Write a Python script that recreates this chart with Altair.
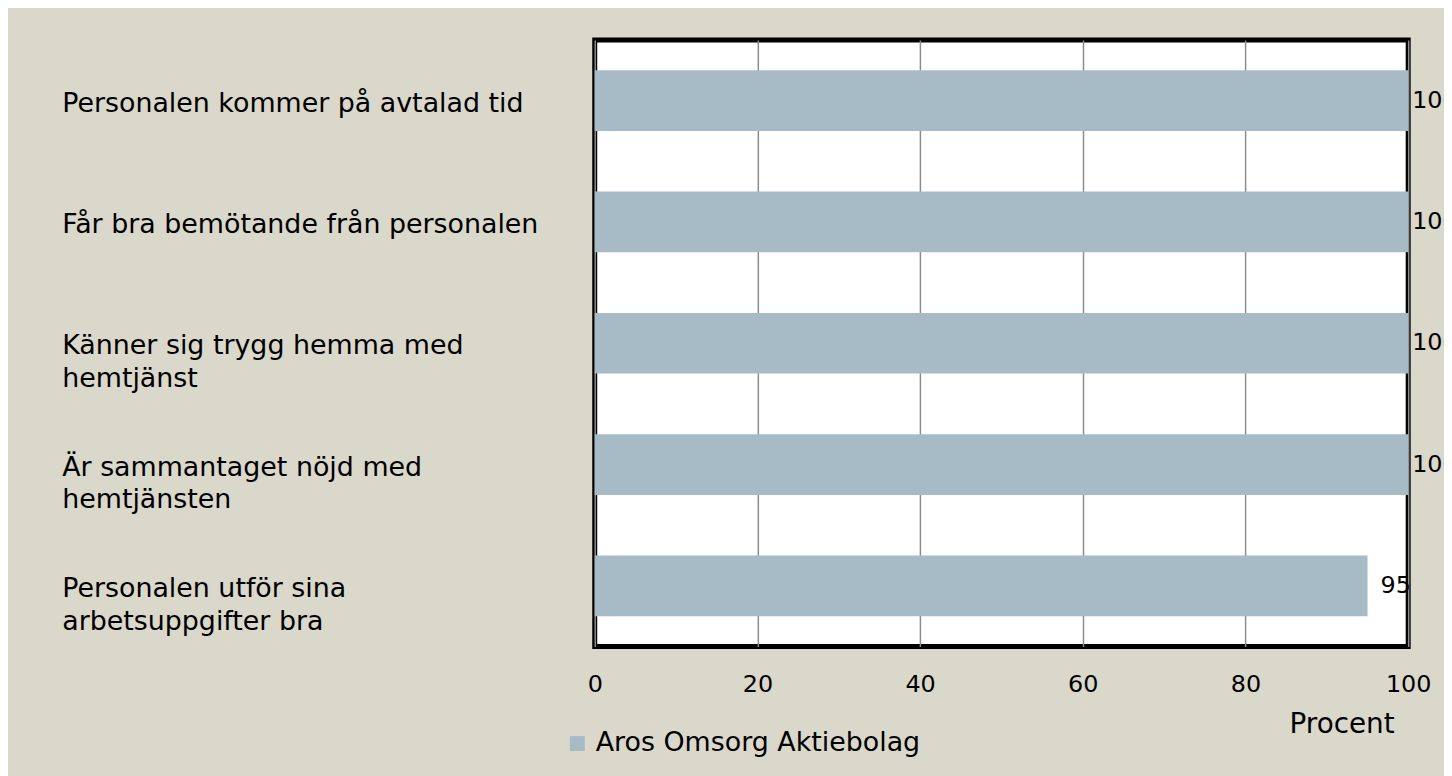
import altair as alt
import pandas as pd

categories = [
    "Personalen kommer på avtalad tid",
    "Får bra bemötande från personalen",
    "Känner sig trygg hemma med|hemtjänst",
    "Är sammantaget nöjd med|hemtjänsten",
    "Personalen utför sina|arbetsuppgifter bra",
]
values = [100, 100, 100, 100, 95]
series = "Aros Omsorg Aktiebolag"
x_ticks = [0, 20, 40, 60, 80, 100]

df = pd.DataFrame({"cat": categories, "value": values, "series": [series] * len(values)})

FONT = "DejaVu Sans"
FS = 27
BAR = "#A7BBC7"

x = alt.X(
    "value:Q",
    scale=alt.Scale(domain=[0, 100], nice=False),
    axis=alt.Axis(
        values=x_ticks,
        title="Procent",
        titleX=751,
        titleY=78,
        titleAlign="center",
        titleBaseline="middle",
        titleFont=FONT,
        titleFontSize=28,
        titleFontWeight="normal",
        titleColor="#000000",
        labelFont=FONT,
        labelFontSize=24,
        labelColor="#000000",
        labelPadding=26,
        labelFlush=False,
        ticks=False,
        domain=False,
        grid=True,
        gridColor="#8C8C8C",
        gridWidth=1.5,
    ),
)
y = alt.Y(
    "cat:N",
    sort=categories,
    scale=alt.Scale(paddingInner=0.5, paddingOuter=0.25),
    axis=alt.Axis(
        title=None,
        labelExpr="split(datum.label, '|')",
        labelAlign="left",
        labelBaseline="middle",
        labelPadding=536,
        labelOffset=3,
        labelLimit=0,
        labelFont=FONT,
        labelFontSize=FS,
        labelColor="#000000",
        labelLineHeight=33,
        ticks=False,
        domain=False,
        grid=False,
    ),
)

bars = alt.Chart(df).mark_bar(cornerRadius=0).encode(
    x=x,
    y=y,
    color=alt.Color(
        "series:N",
        scale=alt.Scale(range=[BAR]),
        legend=alt.Legend(
            title=None,
            orient="none",
            legendX=-31,
            legendY=694,
            symbolType="square",
            symbolSize=225,
            symbolStrokeWidth=0,
            symbolOpacity=1,
            labelFont=FONT,
            labelFontSize=FS,
            labelColor="#000000",
            labelOffset=5,
            labelLimit=0,
        ),
    ),
)

txt_full = alt.Chart(df).transform_filter("datum.value >= 100").mark_text(
    align="left", baseline="middle", dx=4, font=FONT, fontSize=24, color="#000000"
).encode(x="value:Q", y=alt.Y("cat:N", sort=categories), text="value:Q")

txt_part = alt.Chart(df).transform_filter("datum.value < 100").mark_text(
    align="left", baseline="middle", dx=13, font=FONT, fontSize=24, color="#000000"
).encode(x="value:Q", y=alt.Y("cat:N", sort=categories), text="value:Q")

chart = (
    alt.layer(bars, txt_full, txt_part)
    .properties(
        width=818,
        height=610,
        autosize=alt.AutoSizeParams(type="none"),
        padding={"left": 590, "top": 30, "right": 36, "bottom": 128},
        background="#DAD7CB",
    )
    .configure_view(fill="#FFFFFF", stroke="#000000", strokeWidth=5)
)

chart.save("out.html", embed_options={"renderer": "svg", "actions": False})
